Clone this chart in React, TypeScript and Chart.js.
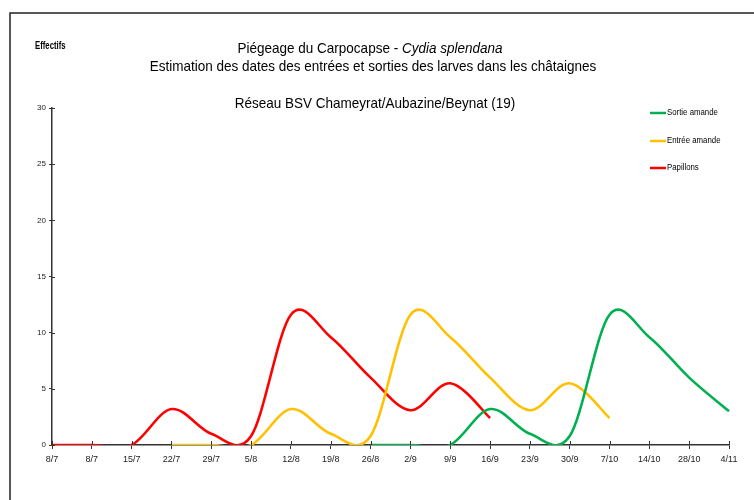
import React, { useEffect, useRef } from "react";
import { Chart, registerables } from "chart.js";

Chart.register(...registerables);

const labels = ["8/7", "8/7", "15/7", "22/7", "29/7", "5/8", "12/8", "19/8", "26/8", "2/9", "9/9", "16/9", "23/9", "30/9", "7/10", "14/10", "28/10", "4/11"];
const papillons = [0, 0, 0, 3.2, 1.0, 0.8, 11.6, 9.6, 6.0, 3.1, 5.5, 2.4, null, null, null, null, null, null];
const entreeAmande = [null, null, null, 0, 0, 0, 3.2, 1.0, 0.8, 11.6, 9.6, 6.0, 3.1, 5.5, 2.4, null, null, null];
const sortieAmande = [null, null, null, null, null, null, null, null, 0, 0, 0, 3.2, 1.0, 0.8, 11.6, 9.6, 6.0, 3.0];
const yMin = 0;
const yMax = 30;
const yStep = 5;

const titleLine1 = "Piégeage du Carpocapse - ";
const titleLine1Italic = "Cydia splendana";
const titleLine2 = "Estimation des dates des entrées et sorties des larves dans les châtaignes";
const titleLine3 = "Réseau BSV Chameyrat/Aubazine/Beynat (19)";
const yAxisTitle = "Effectifs";
const seriesNames = ["Sortie amande", "Entrée amande", "Papillons"];
const seriesColors = ["#00B050", "#FFC000", "#FF0000"];

const FAMILY = "'Liberation Sans', Arial, sans-serif";
const NARROW = "'Liberation Sans Narrow', 'Liberation Sans', Arial, sans-serif";

function drawParts(ctx: CanvasRenderingContext2D, parts: { text: string; font: string }[], cx: number, cy: number, sx: number, align: "center" | "left") {
  let total = 0;
  for (const p of parts) {
    ctx.font = p.font;
    total += ctx.measureText(p.text).width;
  }
  ctx.save();
  ctx.translate(cx, cy);
  ctx.scale(sx, 1);
  ctx.textBaseline = "middle";
  ctx.textAlign = "left";
  let x = align === "center" ? -total / 2 : 0;
  for (const p of parts) {
    ctx.font = p.font;
    ctx.fillText(p.text, x, 0);
    x += ctx.measureText(p.text).width;
  }
  ctx.restore();
}

// Uniform Catmull-Rom style smoothing (like spreadsheet "smoothed line")
const smoothPlugin = {
  id: "smooth",
  afterDatasetsUpdate(chart: any) {
    chart.data.datasets.forEach((_: any, di: number) => {
      const meta = chart.getDatasetMeta(di);
      const pts = meta.data;
      const n = pts.length;
      const k = 1 / 6;
      for (let i = 0; i < n; i++) {
        const p = pts[i];
        if (p.skip) continue;
        const prev = i > 0 && !pts[i - 1].skip ? pts[i - 1] : p;
        const next = i < n - 1 && !pts[i + 1].skip ? pts[i + 1] : p;
        const dx = (next.x - prev.x) * k;
        const dy = (next.y - prev.y) * k;
        p.cp1x = p.x - dx;
        p.cp1y = p.y - dy;
        p.cp2x = p.x + dx;
        p.cp2y = p.y + dy;
      }
      if (meta.dataset) meta.dataset._pointsUpdated = true;
    });
  },
};

const decorPlugin = {
  id: "decor",
  afterDraw(chart: any) {
    const ctx: CanvasRenderingContext2D = chart.ctx;
    const area = chart.chartArea;
    ctx.save();
    // frame
    ctx.strokeStyle = "#222";
    ctx.lineWidth = 1.5;
    ctx.beginPath();
    ctx.moveTo(10, 500);
    ctx.lineTo(10, 13);
    ctx.lineTo(754, 13);
    ctx.stroke();

    ctx.fillStyle = "#000";
    const sx = 0.9;
    drawParts(ctx, [{ text: yAxisTitle, font: `bold 10.5px ${FAMILY}` }], 35, 46, 0.74, "left");
    drawParts(ctx, [
      { text: titleLine1, font: `15px ${FAMILY}` },
      { text: titleLine1Italic, font: `italic 15px ${FAMILY}` },
    ], 370, 49, sx, "center");
    drawParts(ctx, [{ text: titleLine2, font: `15px ${FAMILY}` }], 373, 67, sx, "center");
    drawParts(ctx, [{ text: titleLine3, font: `15px ${FAMILY}` }], 375, 104, sx, "center");

    // legend
    const rows = [113, 141, 168];
    for (let i = 0; i < seriesNames.length; i++) {
      ctx.strokeStyle = seriesColors[i];
      ctx.lineWidth = 2.5;
      ctx.beginPath();
      ctx.moveTo(650, rows[i]);
      ctx.lineTo(666, rows[i]);
      ctx.stroke();
      ctx.fillStyle = "#000";
      drawParts(ctx, [{ text: seriesNames[i], font: `9px ${FAMILY}` }], 667, rows[i], 0.87, "left");
    }

    // upper halves of x tick marks & right halves of y tick marks
    ctx.strokeStyle = "#333";
    ctx.lineWidth = 1;
    const xs = chart.scales.x;
    for (let i = 0; i < labels.length; i++) {
      const px = Math.round(xs.getPixelForTick(i)) + 0.5;
      ctx.beginPath();
      ctx.moveTo(px, area.bottom);
      ctx.lineTo(px, area.bottom - 4);
      ctx.stroke();
    }
    const ys = chart.scales.y;
    for (let v = yMin; v <= yMax; v += yStep) {
      const py = Math.round(ys.getPixelForValue(v)) + 0.5;
      ctx.beginPath();
      ctx.moveTo(area.left, py);
      ctx.lineTo(area.left + 3, py);
      ctx.stroke();
    }
    ctx.restore();
  },
};

export default function App() {
  const ref = useRef<HTMLCanvasElement | null>(null);
  useEffect(() => {
    if (!ref.current) return;
    const mk = (label: string, data: (number | null)[], color: string) => ({
      label,
      data,
      borderColor: color,
      backgroundColor: color,
      borderWidth: 2.6,
      pointRadius: 0,
      pointHoverRadius: 0,
      tension: 0.4,
      fill: false,
      spanGaps: false,
    });
    const chart = new Chart(ref.current, {
      type: "line",
      data: {
        labels,
        datasets: [
          mk(seriesNames[0], sortieAmande, seriesColors[0]),
          mk(seriesNames[1], entreeAmande, seriesColors[1]),
          mk(seriesNames[2], papillons, seriesColors[2]),
        ],
      },
      options: {
        animation: false,
        responsive: true,
        maintainAspectRatio: false,
        layout: { padding: { top: 108, right: 25, bottom: 30, left: 0 } },
        plugins: { legend: { display: false }, title: { display: false }, tooltip: { enabled: false } },
        scales: {
          x: {
            type: "category",
            offset: false,
            grid: { display: true, drawOnChartArea: false, drawTicks: true, tickLength: 4, color: "#333", lineWidth: 1 },
            border: { display: true, color: "#333", width: 1.5 },
            ticks: { font: { size: 9, family: NARROW }, color: "#222", padding: 5, maxRotation: 0, autoSkip: false },
            afterFit: (s: any) => { s.height = 25; },
          },
          y: {
            min: yMin,
            max: yMax,
            grid: { display: true, drawOnChartArea: false, drawTicks: true, tickLength: 3, color: "#333", lineWidth: 1 },
            border: { display: true, color: "#333", width: 1.5 },
            ticks: { stepSize: yStep, font: { size: 8, family: NARROW }, color: "#222", padding: 3 },
            afterFit: (s: any) => { s.width = 52; },
          },
        },
      },
      plugins: [smoothPlugin, decorPlugin],
    } as any);
    return () => chart.destroy();
  }, []);
  return (
    <div style={{ position: "fixed", left: 0, top: 0, width: 754, height: 500, background: "#fff" }}>
      <canvas ref={ref} />
    </div>
  );
}
